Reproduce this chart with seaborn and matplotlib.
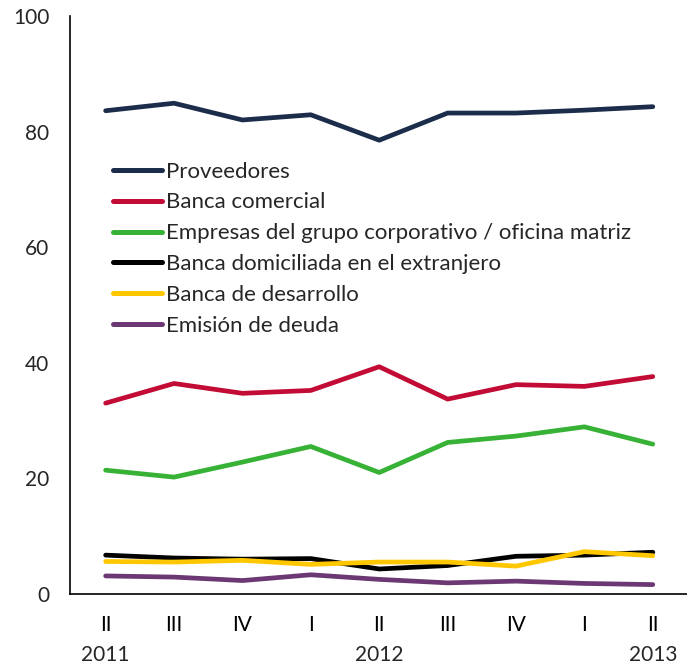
import numpy as np
import pandas as pd
import matplotlib
matplotlib.use("Agg")
import matplotlib.pyplot as plt
import matplotlib.transforms as mtransforms
import seaborn as sns

quarters = ["II", "III", "IV", "I", "II", "III", "IV", "I", "II"]
years = {0: "2011", 4: "2012", 8: "2013"}

series_names = [
    "Proveedores",
    "Banca comercial",
    "Empresas del grupo corporativo / oficina matriz",
    "Banca domiciliada en el extranjero",
    "Banca de desarrollo",
    "Emisión de deuda",
]
proveedores = [83.6, 84.9, 82.0, 82.9, 78.5, 83.2, 83.2, 83.7, 84.3]
banca_comercial = [33.0, 36.4, 34.7, 35.2, 39.3, 33.7, 36.2, 35.9, 37.6]
empresas_grupo = [21.4, 20.2, 22.8, 25.5, 21.0, 26.2, 27.3, 28.9, 25.9]
banca_extranjero = [6.7, 6.2, 6.0, 6.1, 4.3, 4.9, 6.5, 6.7, 7.2]
banca_desarrollo = [5.6, 5.5, 5.8, 5.1, 5.5, 5.5, 4.8, 7.3, 6.6]
emision_deuda = [3.1, 2.9, 2.3, 3.3, 2.5, 1.9, 2.2, 1.8, 1.6]

colors = ["#1B2D4A", "#C20C36", "#37B236", "#000000", "#FFC700", "#6C3874"]

values = [proveedores, banca_comercial, empresas_grupo,
          banca_extranjero, banca_desarrollo, emision_deuda]
rows = []
for name, vals in zip(series_names, values):
    for i, v in enumerate(vals):
        rows.append({"idx": i, "valor": v, "serie": name})
df = pd.DataFrame(rows)

sns.set_theme(style="white")
plt.rcParams["font.family"] = ["Lato", "DejaVu Sans"]

fig = plt.figure(figsize=(6.87, 6.65), dpi=100)
ax = fig.add_axes([0.102, 0.107, 0.898, 0.869])

sns.lineplot(data=df, x="idx", y="valor", hue="serie", hue_order=series_names,
             palette=colors, linewidth=3.4, ax=ax, legend=True)

ax.set_xlim(-0.52, 8.45)
ax.set_ylim(0, 100)
ax.set_yticks([0, 20, 40, 60, 80, 100])
ax.set_xticks(range(len(quarters)))
ax.set_xticklabels(quarters)
ax.set_xticks(np.arange(-0.5, 9.0, 1.0), minor=True)
ax.tick_params(axis="x", which="major", length=0, labelsize=15, pad=15, colors="black")
ax.tick_params(axis="x", which="minor", length=6, width=1, color="#888888", direction="out")
ax.tick_params(axis="y", which="major", length=5, width=1, color="#888888", direction="out",
               labelsize=15, pad=10)
ax.set_xlabel("")
ax.set_ylabel("")

for s in ["top", "right"]:
    ax.spines[s].set_visible(False)
ax.spines["left"].set_color("black")
ax.spines["bottom"].set_color("black")
ax.spines["left"].set_linewidth(1.2)
ax.spines["bottom"].set_linewidth(1.2)

trans = mtransforms.blended_transform_factory(ax.transData, ax.transAxes)
for i, y in years.items():
    ax.text(i, -0.106, y, transform=trans, ha="center", va="center", fontsize=15)

leg = ax.legend(loc="upper left", bbox_to_anchor=(0.07, 0.748), frameon=False,
                fontsize=16, handlelength=2.2, handletextpad=0.18, labelspacing=0.49,
                borderaxespad=0, borderpad=0)
for line in leg.get_lines():
    line.set_linewidth(3.6)

fig.savefig("out.png", dpi=100)
